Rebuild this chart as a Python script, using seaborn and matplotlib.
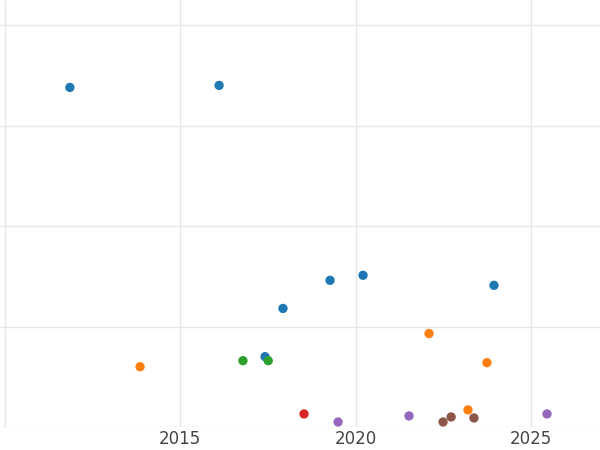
import matplotlib
matplotlib.use("Agg")
import matplotlib.pyplot as plt
import seaborn as sns
import pandas as pd

groups = ["A"]*7 + ["B"]*4 + ["C"]*2 + ["D"] + ["E"]*3 + ["F"]*3
years = [2011.86, 2016.11, 2017.93, 2019.27, 2020.21, 2017.42, 2023.94,
         2013.86, 2022.09, 2023.74, 2023.20,
         2016.79, 2017.51,
         2018.53,
         2019.50, 2021.52, 2025.45,
         2022.49, 2022.72, 2023.37]
values = [3.38, 3.40, 1.18, 1.46, 1.51, 0.70, 1.41,
          0.60, 0.93, 0.64, 0.17,
          0.66, 0.66,
          0.13,
          0.05, 0.11, 0.13,
          0.05, 0.10, 0.09]

df = pd.DataFrame({"year": years, "value": values, "group": groups})
sns.set_theme(style="whitegrid")
fig = plt.figure(figsize=(6, 4.5), dpi=100)
ax = fig.add_axes([0, 50/450*0.46, 1, 427/450])
ax.set_position([0, 23/450, 1, 427/450])
sns.scatterplot(data=df, x="year", y="value", hue="group", palette="tab10",
                s=45, edgecolor="none", legend=False, ax=ax)
ax.set_xlim(2009.87, 2026.96)
ax.set_ylim(0, 4.25)
ax.set_xticks([2010, 2015, 2020, 2025])
ax.set_xticklabels(["", "2015", "2020", "2025"])
ax.set_yticks([0, 1, 2, 3, 4])
ax.set_yticklabels([])
ax.tick_params(axis="x", labelsize=12, labelcolor="#444444", pad=2, length=0)
ax.tick_params(axis="y", length=0)
ax.set_xlabel("")
ax.set_ylabel("")
for s in ax.spines.values():
    s.set_visible(False)
ax.grid(color="#e6e6e6")
fig.savefig("out.png", dpi=100)
